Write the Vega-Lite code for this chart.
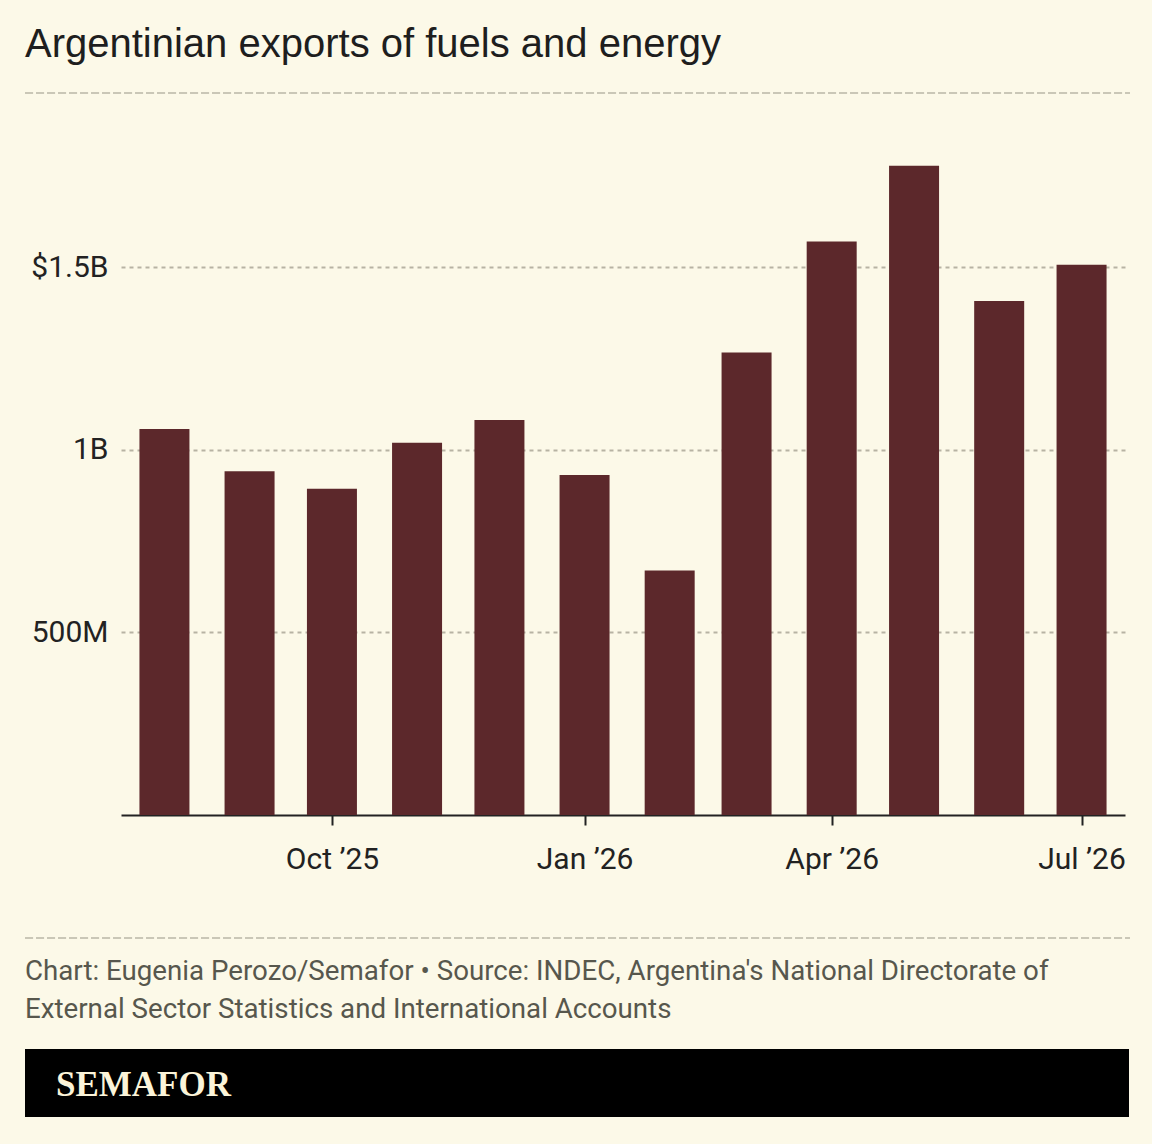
{
  "$schema": "https://vega.github.io/schema/vega-lite/v6.json",
  "background": "#fcf9e8",
  "padding": {"left": 24, "right": 24, "top": 24, "bottom": 27},
  "spacing": 24,
  "config": {
    "view": {"stroke": null},
    "font": "Roboto"
  },
  "vconcat": [
    {
      "width": 1104,
      "height": 0.1,
      "data": {"values": []},
      "mark": "text",
      "view": {"stroke": "#cac7b7", "strokeWidth": 2, "strokeDash": [6, 5], "fill": null},
      "title": {
        "text": "Argentinian exports of fuels and energy",
        "anchor": "start",
        "frame": "group",
        "orient": "top",
        "baseline": "alphabetic",
        "offset": -4,
        "font": "Liberation Sans",
        "fontSize": 40,
        "fontWeight": "normal",
        "color": "#1e1e1e"
      }
    },
    {
      "width": 1104,
      "height": 794,
      "data": {
        "values": [
          {"month": "2025-08-01", "exports": 1057000000},
          {"month": "2025-09-01", "exports": 941000000},
          {"month": "2025-10-01", "exports": 893000000},
          {"month": "2025-11-01", "exports": 1019000000},
          {"month": "2025-12-01", "exports": 1081000000},
          {"month": "2026-01-01", "exports": 931000000},
          {"month": "2026-02-01", "exports": 669000000},
          {"month": "2026-03-01", "exports": 1266000000},
          {"month": "2026-04-01", "exports": 1570000000},
          {"month": "2026-05-01", "exports": 1777000000},
          {"month": "2026-06-01", "exports": 1407000000},
          {"month": "2026-07-01", "exports": 1506000000}
        ]
      },
      "mark": {"type": "bar", "width": 50, "color": "#5c282b"},
      "encoding": {
        "x": {
          "field": "month",
          "type": "temporal",
          "scale": {
            "type": "utc",
            "domain": [
              {"year": 2025, "month": 7, "date": 18, "utc": true},
              {"year": 2026, "month": 7, "date": 15, "utc": true}
            ],
            "range": [96, 1100]
          },
          "axis": {
            "orient": "bottom",
            "offset": -98,
            "title": null,
            "grid": false,
            "values": [
              {"year": 2025, "month": 10, "date": 1, "utc": true},
              {"year": 2026, "month": 1, "date": 1, "utc": true},
              {"year": 2026, "month": 4, "date": 1, "utc": true},
              {"year": 2026, "month": 7, "date": 1, "utc": true}
            ],
            "labelExpr": "utcFormat(datum.value, '%b ’%y')",
            "domainColor": "#222222",
            "domainWidth": 2,
            "tickColor": "#222222",
            "tickWidth": 2,
            "tickSize": 10,
            "labelPadding": 19,
            "labelFont": "Roboto",
            "labelFontSize": 30,
            "labelColor": "#222222",
            "labelFlush": false,
            "labelOverlap": false
          }
        },
        "y": {
          "field": "exports",
          "type": "quantitative",
          "scale": {"domain": [0, 1905300000], "range": [696, 0], "nice": false, "zero": true},
          "axis": {
            "orient": "left",
            "offset": -96,
            "title": null,
            "domain": false,
            "ticks": false,
            "tickSize": 0,
            "labelPadding": 13,
            "values": [500000000, 1000000000, 1500000000],
            "labelExpr": "datum.value == 1500000000 ? '$1.5B' : datum.value == 1000000000 ? '1B' : '500M'",
            "labelFont": "Roboto",
            "labelFontSize": 30,
            "labelColor": "#222222",
            "grid": true,
            "gridColor": "#b7b3a3",
            "gridWidth": 2,
            "gridDash": [4, 4]
          }
        }
      }
    },
    {
      "width": 1104,
      "height": 0.1,
      "data": {"values": []},
      "mark": "text",
      "view": {"stroke": "#cac7b7", "strokeWidth": 2, "strokeDash": [6, 5], "fill": null},
      "title": {
        "text": [
          "Chart: Eugenia Perozo/Semafor • Source: INDEC, Argentina's National Directorate of",
          "External Sector Statistics and International Accounts"
        ],
        "anchor": "start",
        "frame": "group",
        "orient": "bottom",
        "baseline": "alphabetic",
        "offset": 42,
        "lineHeight": 38,
        "font": "Roboto",
        "fontSize": 27.7,
        "fontWeight": "normal",
        "color": "#57574d"
      }
    },
    {
      "width": 1104,
      "height": 68,
      "data": {"values": []},
      "mark": "text",
      "view": {"fill": "#000000", "stroke": null},
      "title": {
        "text": "SEMAFOR",
        "anchor": "start",
        "frame": "group",
        "orient": "top",
        "baseline": "alphabetic",
        "offset": -82,
        "dx": 31,
        "font": "Liberation Serif",
        "fontSize": 35,
        "fontWeight": "bold",
        "color": "#fbf4d9"
      }
    }
  ]
}
